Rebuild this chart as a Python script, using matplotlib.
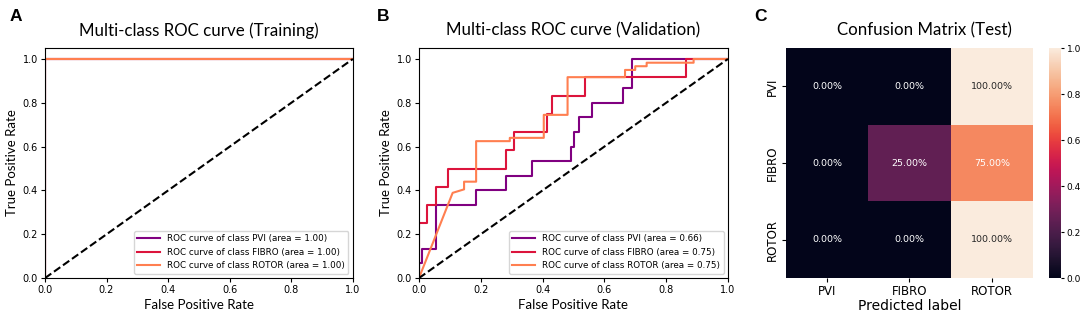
import matplotlib
matplotlib.use("Agg")
import matplotlib.pyplot as plt
import numpy as np
import seaborn as sns

LABEL_FONT = "Lato"
TICK_SIZE = 7
LEGEND_SIZE = 6.3

CLASSES = ["PVI", "FIBRO", "ROTOR"]
COLORS = ["purple", "crimson", "coral"]

# training ROC (perfect for every class)
train_fpr = {"PVI": [0.0, 0.0, 1.0], "FIBRO": [0.0, 0.0, 1.0], "ROTOR": [0.0, 0.0, 1.0]}
train_tpr = {"PVI": [0.0, 1.0, 1.0], "FIBRO": [0.0, 1.0, 1.0], "ROTOR": [0.0, 1.0, 1.0]}
train_auc = {"PVI": 1.00, "FIBRO": 1.00, "ROTOR": 1.00}

# validation ROC
val_fpr = {
    "PVI": [0.0, 0.0, 0.009, 0.009, 0.054, 0.054, 0.185, 0.185, 0.282, 0.282, 0.365, 0.365,
            0.491, 0.491, 0.502, 0.502, 0.518, 0.518, 0.561, 0.561, 0.662, 0.662, 0.689, 0.689, 1.0],
    "FIBRO": [0.0, 0.0, 0.025, 0.025, 0.054, 0.054, 0.093, 0.093, 0.281, 0.281, 0.308, 0.308,
              0.415, 0.415, 0.429, 0.429, 0.537, 0.537, 0.865, 0.865, 1.0],
    "ROTOR": [0.0, 0.109, 0.146, 0.146, 0.185, 0.185, 0.294, 0.294, 0.404, 0.404, 0.413, 0.413,
              0.481, 0.481, 0.667, 0.667, 0.700, 0.700, 0.737, 0.737, 0.889, 0.889, 1.0],
}
val_tpr = {
    "PVI": [0.0, 0.067, 0.067, 0.133, 0.133, 0.333, 0.333, 0.400, 0.400, 0.467, 0.467, 0.533,
            0.533, 0.600, 0.600, 0.667, 0.667, 0.733, 0.733, 0.800, 0.800, 0.867, 0.867, 1.0, 1.0],
    "FIBRO": [0.0, 0.250, 0.250, 0.333, 0.333, 0.417, 0.417, 0.500, 0.500, 0.583, 0.583, 0.667,
              0.667, 0.750, 0.750, 0.833, 0.833, 0.917, 0.917, 1.0, 1.0],
    "ROTOR": [0.0, 0.389, 0.405, 0.440, 0.440, 0.625, 0.625, 0.640, 0.640, 0.745, 0.745, 0.745,
              0.745, 0.917, 0.917, 0.950, 0.950, 0.967, 0.967, 0.983, 0.983, 1.0, 1.0],
}
val_auc = {"PVI": 0.66, "FIBRO": 0.75, "ROTOR": 0.75}

# normalised confusion matrix on the test set
cm_test = np.array([
    [0.00, 0.00, 1.00],
    [0.00, 0.25, 0.75],
    [0.00, 0.00, 1.00],
])


def roc_panel(ax, fpr, tpr, auc, title):
    for cls, col in zip(CLASSES, COLORS):
        ax.plot(fpr[cls], tpr[cls], color=col, lw=1.5,
                label=f"ROC curve of class {cls} (area = {auc[cls]:.2f})")
    ax.plot([0, 1], [0, 1], "k--", lw=1.5)
    ax.set_xlim(0.0, 1.0)
    ax.set_ylim(0.0, 1.05)
    ax.set_title(title, fontsize=12.2, family=LABEL_FONT, pad=9)
    ax.set_xlabel("False Positive Rate", fontsize=9.5, family=LABEL_FONT, labelpad=3)
    ax.set_ylabel("True Positive Rate", fontsize=9.5, family=LABEL_FONT, labelpad=3)
    ax.tick_params(labelsize=TICK_SIZE, length=3, pad=2)
    ax.legend(loc="lower right", fontsize=LEGEND_SIZE, handlelength=2.6)


def main():
    fig = plt.figure(figsize=(10.84, 3.16), dpi=100)

    ax_a = fig.add_axes([0.0415, 0.120, 0.284, 0.728])
    ax_b = fig.add_axes([0.3865, 0.120, 0.285, 0.728])
    ax_c = fig.add_axes([0.725, 0.120, 0.228, 0.728])
    ax_cb = fig.add_axes([0.9677, 0.120, 0.011, 0.728])

    roc_panel(ax_a, train_fpr, train_tpr, train_auc, "Multi-class ROC curve (Training)")
    roc_panel(ax_b, val_fpr, val_tpr, val_auc, "Multi-class ROC curve (Validation)")

    sns.heatmap(cm_test, ax=ax_c, cbar_ax=ax_cb, cmap="rocket", vmin=0, vmax=1,
                annot=True, fmt=".2%", annot_kws={"fontsize": 6.8},
                xticklabels=CLASSES, yticklabels=CLASSES)
    ax_c.set_title("Confusion Matrix (Test)", fontsize=12.2, family=LABEL_FONT, pad=9, x=0.56)
    ax_c.set_xlabel("Predicted label", fontsize=10, labelpad=1)
    ax_c.tick_params(labelsize=8.5, length=3, pad=2)
    ax_c.set_yticklabels(CLASSES, rotation=90, va="center")
    ax_cb.tick_params(labelsize=6.5, length=2.5, pad=1.5)
    ax_cb.set_yticks([0.0, 0.2, 0.4, 0.6, 0.8, 1.0])

    for x, letter in [(0.009, "A"), (0.348, "B"), (0.696, "C")]:
        fig.text(x, 0.935, letter, fontsize=12.5, fontweight="bold",
                 family="Liberation Sans")

    fig.savefig("out.png", dpi=100)
    plt.close(fig)


if __name__ == "__main__":
    main()
